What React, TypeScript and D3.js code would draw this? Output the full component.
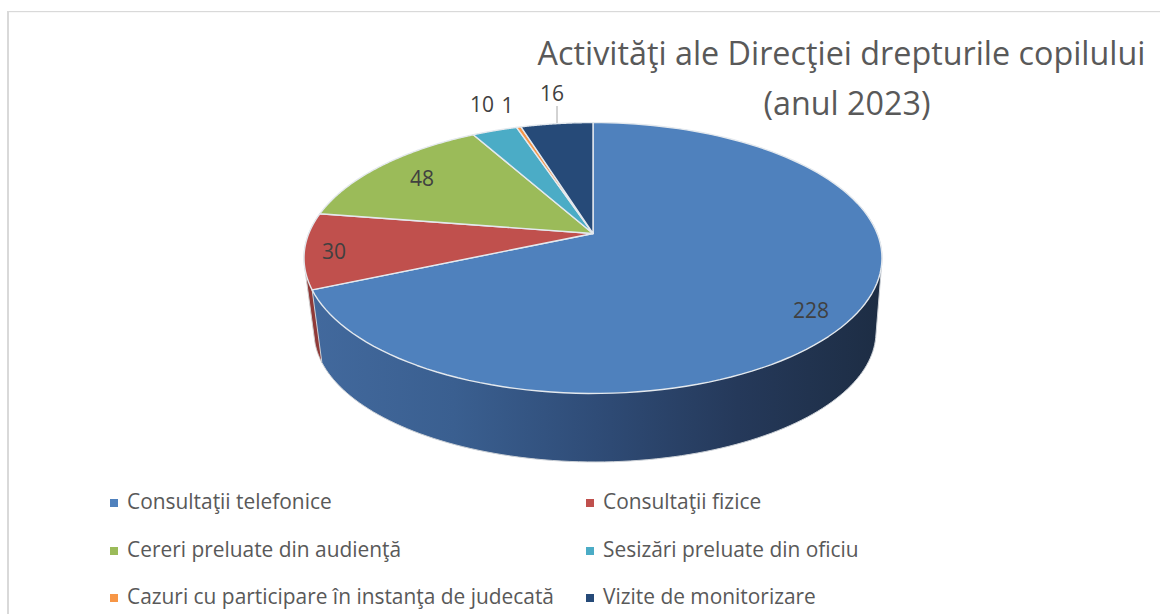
import React from "react";
import * as d3 from "d3";

const categories = [
  "Consultaţii telefonice",
  "Consultaţii fizice",
  "Cereri preluate din audienţă",
  "Sesizări preluate din oficiu",
  "Cazuri cu participare în instanţa de judecată",
  "Vizite de monitorizare",
];
const values = [228, 30, 48, 10, 1, 16];
const colors = ["#4f81bd", "#c0504d", "#9bbb59", "#4bacc6", "#f79646", "#264a78"];
const wallStops = [
  [0, "#42699d"],
  [0.25, "#3a5f90"],
  [0.5, "#2f4c77"],
  [0.75, "#25395a"],
  [1, "#1d2d44"],
];

const W = 1160;
const H = 614;
const cx = 593;
const cy = 233.5;
const a = 284.2;
const b = 131;
const k = 0.181;
// top ellipse centre and radii, and the bottom rim as an affine copy of it
const topMidY = 258;
const topRx = 289;
const topRy = 135.5;
const botCx = 595;
const botCy = 332;
const botRx = 281;
const botRy = 130;

const project = (theta: number): [number, number] => {
  const u = Math.sin(theta);
  const v = -Math.cos(theta);
  const s = 1 / (1 - k * v);
  return [cx + a * u * s, cy + b * v * s];
};
const projectBottom = (theta: number): [number, number] => {
  const [x, y] = project(theta);
  return [botCx + ((x - cx) * botRx) / topRx, botCy + ((y - topMidY) * botRy) / topRy];
};

const pieGen = d3.pie<number>().sort(null).value((d) => d);
const arcs = pieGen(values);
const line = d3.line();

const samples = (t0: number, t1: number, fn = project) =>
  d3.range(0, 121).map((i) => fn(t0 + ((t1 - t0) * i) / 120));

const sectorPath = (t0: number, t1: number) =>
  line([[cx, cy], ...samples(t0, t1)])! + "Z";

const wallPath = (t0: number, t1: number) => {
  const pts = [...samples(t0, t1), ...samples(t0, t1, projectBottom)];
  return line(d3.polygonHull(pts as [number, number][])!)! + "Z";
};

const labelPos: [number, number][] = [
  [811, 318],
  [334, 259],
  [422, 186],
  [482, 112],
  [507.5, 113],
  [552, 101],
];
const legendX = [114, 590];
const legendY = [508, 556, 603];

export default function App() {
  return (
    <svg
      width={W}
      height={H}
      style={{ position: "absolute", left: 0, top: 0, background: "#fff" }}
      fontFamily="'Open Sans', sans-serif"
    >
      <defs>
        <linearGradient id="wall" gradientUnits="userSpaceOnUse" x1={312} x2={880} y1={0} y2={0}>
          {wallStops.map(([o, c]) => (
            <stop key={o as number} offset={o as number} stopColor={c as string} />
          ))}
        </linearGradient>
      </defs>
      <rect x={7} y={11} width={2} height={H - 11} fill="#d9d9d9" />
      <rect x={7} y={11} width={W - 7} height={1.2} fill="#d9d9d9" />

      <text fill="#595959" fontSize={32.3} textAnchor="middle">
        <tspan x={841.5} y={65}>Activităţi ale Direcţiei drepturile copilului</tspan>
        <tspan x={847} y={115}>(anul 2023)</tspan>
      </text>

      <path d={wallPath(arcs[1].startAngle, arcs[1].endAngle)} fill="#8f3a38" stroke="#d0d0d0" strokeWidth={1} />
      <path d={wallPath(arcs[0].startAngle + 1.2, arcs[0].endAngle)} fill="url(#wall)" stroke="#ccd1d7" strokeWidth={1} />

      {arcs.map((d, i) => (
        <path
          key={i}
          d={sectorPath(d.startAngle, d.endAngle)}
          fill={colors[i]}
          stroke="#e4e9ee"
          strokeWidth={1.4}
          strokeLinejoin="round"
        />
      ))}

      <line x1={557} x2={557} y1={106} y2={123} stroke="#a6a6a6" strokeWidth={1} />
      {values.map((v, i) => (
        <text key={i} x={labelPos[i][0]} y={labelPos[i][1]} fill="#404040" fontSize={21} textAnchor="middle">
          {v}
        </text>
      ))}

      {categories.map((c, i) => {
        const lx = legendX[i % 2];
        const ly = legendY[Math.floor(i / 2)];
        return (
          <g key={c}>
            <rect x={lx - 4} y={ly - 9} width={8} height={8} fill={colors[i]} />
            <text x={lx + 13} y={ly + 1} fill="#595959" fontSize={20.9}>
              {c}
            </text>
          </g>
        );
      })}
    </svg>
  );
}
